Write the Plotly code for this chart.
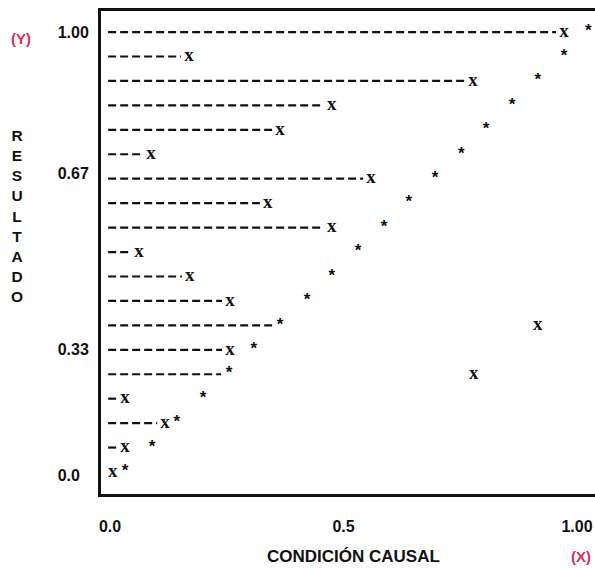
import plotly.graph_objects as go

# ---- data ----
rows = [18, 17, 16, 15, 14, 13, 12, 11, 10, 9, 8, 7, 6, 5, 4, 3, 2, 1, 0]
x_condition = [0.972, 0.169, 0.777, 0.475, 0.364, 0.088, 0.559, 0.338, 0.475, 0.062,
               0.171, 0.257, 0.916, 0.257, 0.779, 0.032, 0.118, 0.032, 0.006]
y_outcome = [1.024, 0.972, 0.916, 0.861, 0.805, 0.752, 0.696, 0.640, 0.587, 0.531,
             0.475, 0.422, 0.364, 0.308, 0.255, 0.199, 0.143, 0.090, 0.032]
x_tick_vals = [0.0, 0.5, 1.0]
x_tick_text = ["0.0", "0.5", "1.00"]
y_tick_rows = [18, 12.2, 5.0, -0.15]
y_tick_text = ["1.00", "0.67", "0.33", "0.0\u00a0\u00a0"]

INK = "#111111"
RED = "#E3275C"
FONT = "Arial, Liberation Sans, sans-serif"
DASH_START = -0.004
DASH_GAP = 0.017

# dashed leader lines: from the axis to the nearest of the two marks
lx, ly = [], []
for r, xc, yo in zip(rows, x_condition, y_outcome):
    end = min(xc, yo) - DASH_GAP
    if end > DASH_START:
        lx += [DASH_START, end, None]
        ly += [r, r, None]

fig = go.Figure()
fig.add_trace(go.Scatter(x=lx, y=ly, mode="lines",
                         line=dict(color=INK, width=2.2, dash="8px,4px"),
                         hoverinfo="skip", showlegend=False))
fig.add_trace(go.Scatter(x=x_condition, y=rows, mode="text", text=["x"] * len(rows),
                         textfont=dict(family="Liberation Serif, DejaVu Serif, serif",
                                       size=19, color=INK, weight="bold"),
                         showlegend=False))
fig.add_trace(go.Scatter(x=y_outcome, y=rows, mode="text", text=["*"] * len(rows),
                         textfont=dict(family=FONT, size=17, color=INK, weight="bold"),
                         showlegend=False))

W, H = 595, 568
L, R, T, B = 101, 0, 11, 74
pw, ph = W - L - R, H - T - B


def px(xp):
    return (xp - L) / pw


def py(yp):
    return 1 - (yp - T) / ph


def note(text, xp, yp, size, color=INK):
    return dict(text=text, x=px(xp), y=py(yp), xref="paper", yref="paper",
                xanchor="center", yanchor="middle", showarrow=False, align="center",
                font=dict(family=FONT, size=size, color=color, weight="bold"))


tick_font = dict(family=FONT, size=16, color=INK, weight="bold")
fig.update_layout(
    width=W, height=H,
    margin=dict(l=L, r=R, t=T, b=B, pad=0, autoexpand=False),
    paper_bgcolor="white", plot_bgcolor="white",
    font=dict(family=FONT, color=INK),
    hovermode=False,
    xaxis=dict(range=[-0.0193, 1.0385], showgrid=False, zeroline=False,
               showline=True, mirror=True, linecolor=INK, linewidth=3,
               tickvals=x_tick_vals, ticktext=x_tick_text, ticks="",
               tickfont=tick_font, ticklabelstandoff=16, automargin=False),
    yaxis=dict(range=[-0.900, 18.862], showgrid=False, zeroline=False,
               showline=True, mirror=False, linecolor=INK, linewidth=3,
               tickvals=y_tick_rows, ticktext=y_tick_text, ticks="",
               tickfont=tick_font, ticklabelstandoff=6, automargin=False),
    annotations=[
        note("(Y)", 21, 38, 15, RED),
        note("(X)", 581, 556, 15, RED),
        note("<br>".join("RESULTADO"), 17, 216, 15.5),
        note("CONDICIÓN CAUSAL", 353, 556, 17),
    ],
)

fig.write_html("out.html", config={"displayModeBar": False, "staticPlot": True},
               post_script="document.body.style.margin='0';")
